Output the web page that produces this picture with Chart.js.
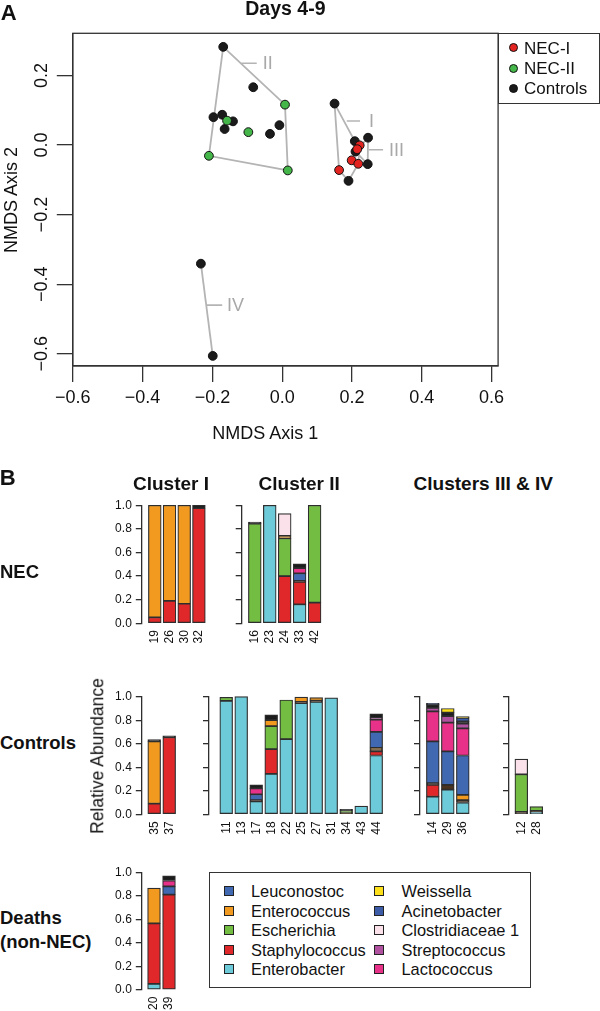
<!DOCTYPE html>
<html>
<head>
<meta charset="utf-8">
<script src="https://cdn.jsdelivr.net/npm/chart.js@4.4.1/dist/chart.umd.min.js"></script>
<style>
  html, body { margin: 0; padding: 0; background: #fff; }
  #fig { position: relative; width: 600px; height: 1011px; overflow: hidden;
         font-family: 'Liberation Sans', Arial, sans-serif; color: #111; }
  #fig canvas { position: absolute; }
  .box { position: absolute; border: 1.3px solid #333; box-sizing: border-box; }
</style>
</head>
<body>
<div id="fig"></div>
<script>
// ---------- Panel A: NMDS, days 4-9 ----------
var ptsNecI = [[0.222, -0.001], [0.215, -0.012], [0.199, -0.044], [0.218, -0.054], [0.163, -0.072]];
var ptsNecII = [[0.008, 0.116], [-0.158, 0.070], [-0.097, 0.037], [-0.210, -0.031], [0.016, -0.073]];
var ptsControls = [[-0.169, 0.282], [-0.083, 0.166], [0.150, 0.119], [-0.197, 0.080], [-0.172, 0.087],
  [-0.141, 0.068], [-0.165, 0.046], [-0.035, 0.032], [-0.008, 0.057], [0.208, 0.011], [0.246, 0.021],
  [0.210, -0.019], [0.245, -0.055], [0.190, -0.103], [-0.233, -0.341], [-0.199, -0.606]];

var hullI = [[0.150, 0.119], [0.208, 0.011], [0.222, -0.001], [0.218, -0.054], [0.190, -0.103], [0.163, -0.072], [0.150, 0.119]];
var hullII = [[-0.169, 0.282], [0.008, 0.116], [0.016, -0.073], [-0.210, -0.031], [-0.169, 0.282]];
var hullIII = [[0.246, 0.021], [0.245, -0.055], [0.210, -0.019], [0.246, 0.021]];
var hullIV = [[-0.233, -0.341], [-0.199, -0.606]];

var hullNames = ['I', 'II', 'III', 'IV'];
var hullLabelAt = [[0.249, 0.069], [-0.056, 0.235], [0.306, -0.0135], [-0.158, -0.460]];
var hullLeaders = [
  [[0.185, 0.069], [0.223, 0.069]],
  [[-0.117, 0.235], [-0.073, 0.235]],
  [[0.248, -0.0135], [0.289, -0.0135]],
  [[-0.216, -0.460], [-0.172, -0.460]]
];

var ticksAxis1 = [-0.6, -0.4, -0.2, 0.0, 0.2, 0.4, 0.6];
var ticksAxis2 = [-0.6, -0.4, -0.2, 0.0, 0.2];

// ---------- Panel B: relative abundance ----------
var samples = ['19', '26', '30', '32', '16', '23', '24', '33', '42', '35', '37', '11', '13', '17', '18',
  '22', '25', '27', '31', '34', '43', '44', '14', '29', '36', '12', '28', '20', '39'];

var enterobacter   = [0, 0, 0, 0, 0, 1.0, 0, 0.16, 0, 0, 0, 0.965, 1.0, 0.11, 0.343, 0.64, 0.945, 0.955, 0.99, 0, 0.07, 0.50, 0.15, 0.21, 0.10, 0, 0.02, 0.05, 0];
var staphylococcus = [0.05, 0.19, 0.165, 0.975, 0, 0, 0.40, 0.19, 0.175, 0.09, 0.655, 0, 0, 0, 0.212, 0, 0, 0, 0, 0, 0, 0.035, 0.10, 0, 0, 0, 0, 0.515, 0.81];
var darkTaxa       = [0, 0, 0, 0, 0, 0, 0, 0.008, 0, 0, 0, 0, 0, 0.01, 0, 0, 0.012, 0.012, 0, 0.01, 0, 0.01, 0.015, 0.04, 0.02, 0.02, 0.01, 0, 0];
var escherichia    = [0, 0, 0, 0, 0.845, 0, 0.32, 0, 0.825, 0, 0, 0.03, 0, 0, 0.195, 0.332, 0, 0, 0, 0.02, 0, 0, 0, 0, 0, 0.32, 0.035, 0, 0];
var enterococcus   = [0.95, 0.81, 0.835, 0, 0, 0, 0.02, 0, 0, 0.53, 0, 0, 0, 0, 0.05, 0, 0.04, 0.025, 0, 0, 0, 0.02, 0, 0, 0.045, 0, 0, 0.30, 0];
var leuconostoc    = [0, 0, 0, 0, 0, 0, 0, 0.065, 0, 0, 0, 0, 0, 0.05, 0, 0, 0, 0, 0, 0, 0, 0.135, 0.355, 0.285, 0.335, 0, 0, 0, 0.07];
var lactococcus    = [0, 0, 0, 0, 0, 0, 0, 0.045, 0, 0, 0, 0, 0, 0.05, 0, 0, 0, 0, 0, 0, 0, 0.105, 0.255, 0.245, 0.23, 0, 0, 0, 0.05];
var streptococcus  = [0, 0, 0, 0, 0, 0, 0, 0, 0, 0, 0, 0, 0, 0, 0, 0, 0, 0, 0, 0, 0, 0.015, 0.03, 0.055, 0.04, 0, 0, 0, 0];
var otherTaxa      = [0, 0, 0, 0.025, 0.012, 0, 0, 0.035, 0, 0.015, 0.013, 0, 0, 0.03, 0.045, 0, 0, 0, 0, 0.012, 0, 0.035, 0.028, 0.03, 0.02, 0, 0, 0, 0.04];
var clostridiaceae = [0, 0, 0, 0, 0, 0, 0.19, 0, 0, 0, 0, 0, 0, 0, 0, 0, 0, 0, 0, 0, 0, 0, 0, 0, 0, 0.13, 0, 0, 0];
var acinetobacter  = [0, 0, 0, 0, 0, 0, 0, 0, 0, 0, 0, 0, 0, 0, 0, 0, 0, 0, 0, 0, 0, 0, 0.01, 0, 0.03, 0, 0, 0, 0];
var weissella      = [0, 0, 0, 0, 0, 0, 0, 0, 0, 0, 0, 0, 0, 0, 0, 0, 0, 0, 0, 0, 0, 0, 0, 0.035, 0.01, 0, 0, 0, 0];

var genera = ['Enterobacter', 'Staphylococcus', 'Other dark', 'Escherichia', 'Enterococcus', 'Leuconostoc',
  'Lactococcus', 'Streptococcus', 'Other', 'Clostridiaceae 1', 'Acinetobacter', 'Weissella'];
var series = [enterobacter, staphylococcus, darkTaxa, escherichia, enterococcus, leuconostoc,
  lactococcus, streptococcus, otherTaxa, clostridiaceae, acinetobacter, weissella];
var legendGenera = ['Leuconostoc', 'Enterococcus', 'Escherichia', 'Staphylococcus', 'Enterobacter',
  'Weissella', 'Acinetobacter', 'Clostridiaceae 1', 'Streptococcus', 'Lactococcus'];

var necClusterI = ['19', '26', '30', '32'];
var necClusterII = ['16', '23', '24', '33', '42'];
var ctrlClusterI = ['35', '37'];
var ctrlClusterII = ['11', '13', '17', '18', '22', '25', '27', '31', '34', '43', '44'];
var ctrlClusterIII = ['14', '29', '36'];
var ctrlClusterIV = ['12', '28'];
var deathClusterI = ['20', '39'];

var abundanceTicks = [0, 0.2, 0.4, 0.6, 0.8, 1.0];

// ---------- styling ----------
var FONT = "'Liberation Sans', Arial, sans-serif";
var genusColors = ['#6dcad9', '#e0282a', '#4a3320', '#74bd43', '#f29a1f', '#4169b2',
  '#e8328a', '#b0529f', '#1c1c1c', '#fbe2ea', '#3d5ca8', '#fde01a'];

Chart.defaults.font.family = FONT;
Chart.defaults.color = '#111';

var fig = document.getElementById('fig');

function put(str, x, y, size, o) {
  o = o || {};
  var d = document.createElement('div');
  d.textContent = str;
  d.style.cssText = 'position:absolute;white-space:nowrap;line-height:1;left:' + x + 'px;top:' + y +
    'px;font-size:' + size + 'px;' + (o.bold ? 'font-weight:bold;' : '') + (o.color ? 'color:' + o.color + ';' : '');
  d.style.transform = 'translate(' + (o.left ? '0' : '-50%') + ',-50%)' + (o.rot ? ' rotate(-90deg)' : '');
  fig.appendChild(d);
  return d;
}

function addCanvas(left, top, w, h) {
  var c = document.createElement('canvas');
  c.width = w; c.height = h;
  c.style.left = left + 'px'; c.style.top = top + 'px';
  c.style.width = w + 'px'; c.style.height = h + 'px';
  fig.appendChild(c);
  return c;
}

function signed(v) {
  var s = Math.abs(v) < 1e-9 ? '0.0' : v.toFixed(1);
  return s.replace('-', '\u2212');
}

function pts(list) {
  return list.map(function (p) { return { x: p[0], y: p[1] }; });
}

// ---------- Panel A chart ----------
var boxA = { left: 72.8, right: 498.1, top: 33.3, bottom: 366 };
var canvasA = addCanvas(0, 0, 600, 460);

function dots(label, list, fill) {
  return {
    label: label, data: pts(list), showLine: false,
    pointRadius: 4.4, pointBackgroundColor: fill, pointBorderColor: '#111', pointBorderWidth: 1
  };
}
function segs(list, width) {
  return {
    data: pts(list), showLine: true, borderColor: '#b4b4b4', borderWidth: width,
    pointRadius: 0, tension: 0, fill: false
  };
}

var panelAExtras = {
  id: 'panelAExtras',
  afterDraw: function (chart) {
    var ctx = chart.ctx, a = chart.chartArea, xs = chart.scales.x, ys = chart.scales.y;
    ctx.save();
    ctx.strokeStyle = '#333';
    ctx.lineWidth = 1.3;
    ctx.strokeRect(a.left, a.top, a.right - a.left, a.bottom - a.top);
    ctx.fillStyle = '#111';
    ctx.font = '18px ' + FONT;
    ctx.textAlign = 'center';
    ctx.textBaseline = 'middle';
    ticksAxis2.forEach(function (v) {
      ctx.save();
      ctx.translate(41, ys.getPixelForValue(v));
      ctx.rotate(-Math.PI / 2);
      ctx.fillText(signed(v), 0, 1);
      ctx.restore();
    });
    ctx.fillStyle = '#a8a8a8';
    ctx.textAlign = 'left';
    hullNames.forEach(function (name, i) {
      ctx.fillText(name, xs.getPixelForValue(hullLabelAt[i][0]), ys.getPixelForValue(hullLabelAt[i][1]) + 1);
    });
    ctx.restore();
  }
};

var datasetsA = [
  dots('NEC-I', ptsNecI, '#e2231f'),
  dots('NEC-II', ptsNecII, '#45b649'),
  dots('Controls', ptsControls, '#1b1b1b'),
  segs(hullI, 1.8), segs(hullII, 1.8), segs(hullIII, 1.8), segs(hullIV, 1.8)
];
hullLeaders.forEach(function (l) { datasetsA.push(segs(l, 1.6)); });

new Chart(canvasA, {
  type: 'scatter',
  data: { datasets: datasetsA },
  options: {
    animation: false,
    responsive: false,
    layout: { padding: { top: boxA.top, right: 600 - boxA.right, left: 0, bottom: 0 }, autoPadding: false },
    plugins: { legend: { display: false }, tooltip: { enabled: false } },
    scales: {
      x: {
        type: 'linear', min: -0.6, max: 0.6186,
        afterBuildTicks: function (s) { s.ticks = ticksAxis1.map(function (v) { return { value: v }; }); },
        afterFit: function (s) { s.height = 460 - boxA.bottom; s.paddingLeft = 0; s.paddingRight = 0; },
        grid: { drawOnChartArea: false, tickLength: 16, color: '#333', lineWidth: 1.3 },
        border: { color: '#333', width: 1.3 },
        ticks: { padding: 5, font: { size: 18 }, color: '#111', maxRotation: 0, minRotation: 0,
          autoSkip: false, callback: function (v) { return signed(v); } }
      },
      y: {
        type: 'linear', min: -0.635, max: 0.321,
        afterBuildTicks: function (s) { s.ticks = ticksAxis2.map(function (v) { return { value: v }; }); },
        afterFit: function (s) { s.width = boxA.left; s.paddingTop = 0; s.paddingBottom = 0; },
        grid: { drawOnChartArea: false, tickLength: 16, color: '#333', lineWidth: 1.3 },
        border: { color: '#333', width: 1.3 },
        ticks: { display: false }
      }
    }
  },
  plugins: [panelAExtras]
});

// Panel A legend
var legA = document.createElement('div');
legA.className = 'box';
legA.style.cssText += 'left:498px;top:33.3px;width:101.6px;height:71px;';
fig.appendChild(legA);
[['NEC-I', '#e2231f', 47.7], ['NEC-II', '#45b649', 68.3], ['Controls', '#1b1b1b', 88.3]].forEach(function (e) {
  var c = document.createElement('div');
  c.style.cssText = 'position:absolute;left:' + (513.3 - 4.8) + 'px;top:' + (e[2] - 4.8) +
    'px;width:9.6px;height:9.6px;border-radius:50%;box-sizing:border-box;border:1px solid #111;background:' + e[1];
  fig.appendChild(c);
  put(e[0], 524, e[2], 17, { left: true });
});

// ---------- Panel B charts ----------
var rowsB = [[505.3, 623.2], [696.7, 814.3], [872.3, 989.7]];

function barPanel(names, row, axisX, firstX, pitch, showLabels) {
  var yTop = rowsB[row][0], yBase = rowsB[row][1];
  var left = Math.floor(axisX - (showLabels ? 40 : 10));
  var yw = axisX - left;
  var top = Math.floor(yTop - 12);
  var padTop = yTop - top;
  var plotH = yBase - yTop;
  var n = names.length;
  var xmin = 1 - (firstX - axisX) / pitch;
  var xmax = n + 0.6;
  var plotW = (xmax - xmin) * pitch;
  var w = Math.ceil(yw + plotW + 24);   // spare room on the right for label padding
  var h = Math.ceil(padTop + plotH + 28);
  var xh = h - padTop - plotH;
  var canvas = addCanvas(left, top, w, h);

  var datasets = genera.map(function (g, k) {
    return {
      label: g,
      data: names.map(function (s, i) {
        var v = series[k][samples.indexOf(s)];
        return { x: i + 1, y: v ? v : null };
      }),
      backgroundColor: genusColors[k],
      borderColor: '#2e2e2e',
      borderWidth: 1.2,
      borderSkipped: false,
      barThickness: 12.8,
      clip: false
    };
  });

  new Chart(canvas, {
    type: 'bar',
    data: { datasets: datasets },
    options: {
      animation: false,
      responsive: false,
      layout: { padding: { top: padTop, right: w - yw - plotW, left: 0, bottom: 0 }, autoPadding: false },
      plugins: { legend: { display: false }, tooltip: { enabled: false } },
      scales: {
        x: {
          type: 'linear', stacked: true, min: xmin, max: xmax, offset: false,
          afterBuildTicks: function (s) { s.ticks = names.map(function (_, i) { return { value: i + 1 }; }); },
          afterFit: function (s) { s.height = xh; s.paddingLeft = 0; s.paddingRight = 0; },
          grid: { display: false, drawTicks: false, offset: false },
          border: { display: false },
          ticks: { padding: 7, font: { size: 12 }, color: '#111', autoSkip: false,
            minRotation: 90, maxRotation: 90,
            callback: function (v) { return names[v - 1]; } }
        },
        y: {
          type: 'linear', stacked: true, min: 0, max: 1,
          afterBuildTicks: function (s) { s.ticks = abundanceTicks.map(function (v) { return { value: v }; }); },
          afterFit: function (s) { s.width = yw; s.paddingTop = 0; s.paddingBottom = 0; },
          grid: { drawOnChartArea: false, tickLength: 6, color: '#2e2e2e', lineWidth: 1.3 },
          border: { color: '#2e2e2e', width: 1.3 },
          ticks: { padding: 4, font: { size: 12 }, color: '#111',
            callback: function (v) { return showLabels ? v.toFixed(1) : ''; } }
        }
      }
    }
  });
}

barPanel(necClusterI, 0, 141.8, 154.8, 14.7, true);
barPanel(necClusterII, 0, 241.7, 254.8, 14.95, false);
barPanel(ctrlClusterI, 1, 141.8, 154.2, 15.0, true);
barPanel(ctrlClusterII, 1, 209, 226.2, 15.0, false);
barPanel(ctrlClusterIII, 1, 420, 432.8, 15.0, false);
barPanel(ctrlClusterIV, 1, 509, 521.3, 15.0, false);
barPanel(deathClusterI, 2, 141.8, 154.0, 15.0, true);

// Panel B legend
var legB = document.createElement('div');
legB.className = 'box';
legB.style.cssText += 'left:208.8px;top:872.3px;width:321.9px;height:116px;';
fig.appendChild(legB);
legendGenera.forEach(function (g, i) {
  var col = i < 5 ? 0 : 1, r = i % 5;
  var cy = 891 + r * 19.6;
  var sx = col === 0 ? 228.7 : 379.3;
  var sq = document.createElement('div');
  sq.style.cssText = 'position:absolute;left:' + (sx - 5) + 'px;top:' + (cy - 5) +
    'px;width:10px;height:10px;box-sizing:border-box;border:1px solid #222;background:' + genusColors[genera.indexOf(g)];
  fig.appendChild(sq);
  put(g, col === 0 ? 251 : 401.5, cy, 16.4, { left: true });
});

// ---------- text ----------
put('A', 8.6, 12.5, 22, { bold: true });
put('Days 4-9', 285.4, 9, 19.5, { bold: true });
put('NMDS Axis 1', 265.3, 433.3, 18);
put('NMDS Axis 2', 10.5, 200, 18, { rot: true });

put('B', 7.7, 478.3, 22, { bold: true });
put('Cluster I', 171, 483.3, 19, { bold: true });
put('Cluster II', 299.2, 483.3, 19, { bold: true });
put('Clusters III & IV', 483.3, 483.3, 19, { bold: true });
put('NEC', 0, 571.7, 18.5, { bold: true, left: true });
put('Controls', 0, 743.3, 18.5, { bold: true, left: true });
put('Deaths', 0, 918.3, 18.5, { bold: true, left: true });
put('(non-NEC)', 0, 941.7, 18.5, { bold: true, left: true });
put('Relative Abundance', 98, 756, 17.5, { rot: true });
</script>
</body>
</html>
